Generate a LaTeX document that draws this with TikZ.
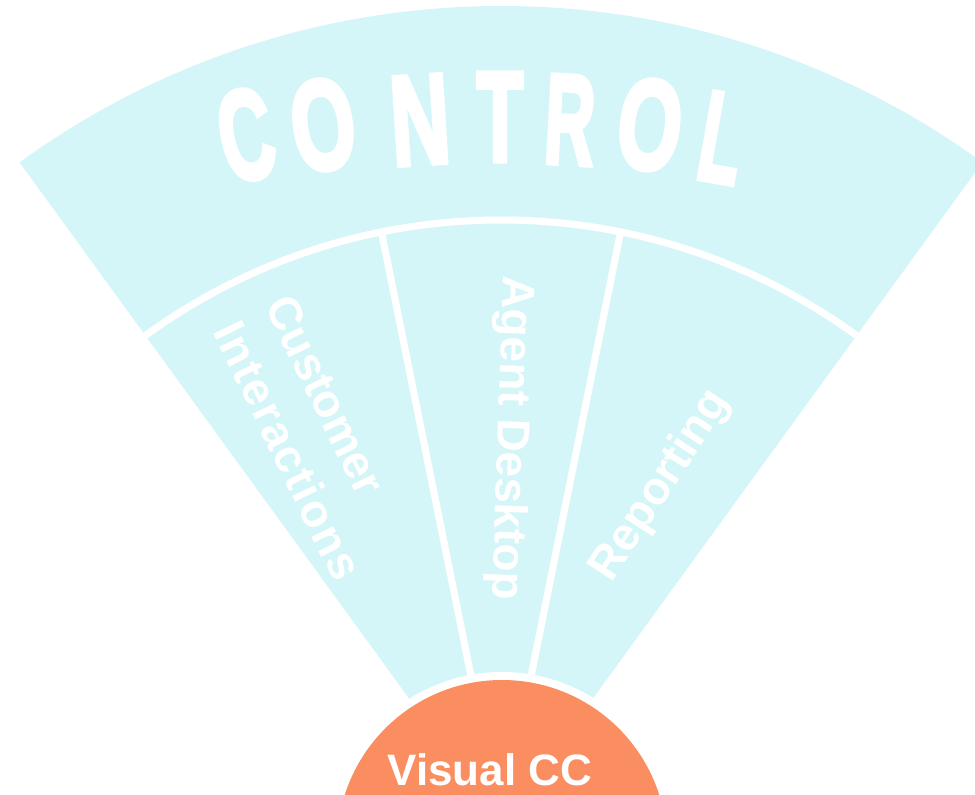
\documentclass[tikz,border=0pt]{standalone}
\usepackage{graphicx}
\usepackage{fontspec}
\setmainfont{Liberation Sans}
\newfontfamily\ctlfont{Liberation Sans}[BoldFeatures={FakeBold=4}]
\usetikzlibrary{calc}
\definecolor{fancyan}{RGB}{213,246,249}
\definecolor{vccorange}{RGB}{250,142,96}
\tikzset{
  fanfill/.style={fill=fancyan},
  whiteline/.style={draw=white, line width=7pt},
  letterctl/.style={text=white, inner sep=0pt, font=\fontsize{128}{128}\selectfont\ctlfont\bfseries},
  sectorlabel/.style={text=white, inner sep=0pt, font=\fontsize{46}{58}\selectfont\bfseries},
  corelabel/.style={text=white, inner sep=0pt, font=\fontsize{44}{50}\selectfont\bfseries}
}
\begin{document}
\begin{tikzpicture}[x=1pt,y=1pt]
\useasboundingbox (0,0) rectangle (975,795);
\clip (0,0) rectangle (975,795);
\fill[white] (0,0) rectangle (975,795);
\coordinate (apex) at (501,-30);
\coordinate (core) at (502,-50);
% fan
\fill[fanfill] (apex) -- ++(126:819) arc[start angle=126, end angle=54, radius=819] -- cycle;
% inner arc
\draw[whiteline] ($(apex)+(126:605)$) arc[start angle=126, end angle=54, radius=605];
% dividers
\draw[whiteline] (apex) -- ++(101.4:605);
\draw[whiteline] (apex) -- ++(78.6:605);
% core
\fill[white] (core) circle[radius=173];
\fill[vccorange] (core) circle[radius=165];
% CONTROL letters
\node[letterctl, rotate=11.4] (c1) at (246,660) {\scalebox{0.58}[1]{C}};
\node[letterctl, rotate=8] (c2) at (323,670) {\scalebox{0.64}[1]{O}};
\node[letterctl, rotate=3.6] (c3) at (420,675) {\scalebox{0.64}[1]{N}};
\node[letterctl, rotate=0] (c4) at (500,678) {\scalebox{0.60}[1]{T}};
\node[letterctl, rotate=-3.1] (c5) at (570,675) {\scalebox{0.54}[1]{R}};
\node[letterctl, rotate=-6.8] (c6) at (650,670) {\scalebox{0.64}[1]{O}};
\node[letterctl, rotate=-10] (c7) at (722,657) {\scalebox{0.54}[1]{L}};
% sector labels
\node[sectorlabel, align=left, rotate=-64] (cust) at (314,357) {Customer\\{\addfontfeature{LetterSpace=4}Interactions}};
\node[sectorlabel, rotate=-92] (agent) at (510,357) {Agent Desktop};
\node[sectorlabel, rotate=57] (rep) at (661,309) {Reporting};
\node[corelabel] (vcc) at (490,25) {Visual CC};
\end{tikzpicture}
\end{document}
